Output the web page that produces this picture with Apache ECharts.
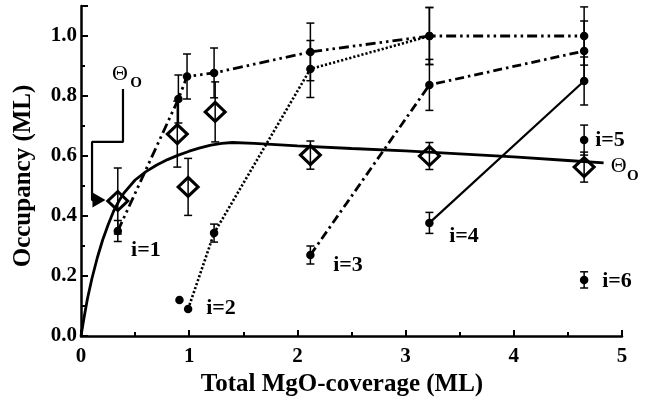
<!DOCTYPE html>
<html><head><meta charset="utf-8">
<script src="https://cdn.jsdelivr.net/npm/echarts@6/dist/echarts.min.js"></script>
<style>html,body{margin:0;padding:0;background:#fff}#c{width:652px;height:405px}</style>
</head><body><div id="c"></div>
<script>
// ---- data ----
const thetaCurve = [[0,0],[0.03,0.065],[0.06,0.125],[0.1,0.19],[0.15,0.26],[0.2,0.32],[0.25,0.37],[0.3,0.415],[0.35,0.45],[0.4,0.478],[0.5,0.52],[0.6,0.548],[0.7,0.57],[0.8,0.588],[0.9,0.603],[1.0,0.616],[1.1,0.627],[1.2,0.636],[1.3,0.642],[1.4,0.645],[1.6,0.642],[2.0,0.634],[2.5,0.625],[3.0,0.617],[3.5,0.607],[4.0,0.597],[4.5,0.585],[4.83,0.577]];
const thetaExp = [[0.34,0.45],[0.89,0.673],[0.99,0.497],[1.24,0.747],[2.12,0.603],[3.22,0.600],[4.65,0.563]];
const thetaExpErr = [0.11,0.11,0.095,0.10,0.047,0.045,0.05];
const i1 = [[0.34,0.35],[0.90,0.79],[0.98,0.865],[1.23,0.877],[2.12,0.947],[3.22,1.0],[4.65,1.0]];
const i1Err = [0.035,0.08,0.075,0.083,0.096,0.095,0.097];
const i2 = [[0.99,0.09],[1.23,0.343],[2.12,0.89],[3.22,1.0]];
const i2Err = [0,0.03,0.095,0.095];
const i2Extra = [[0.91,0.12]];
const i3 = [[2.12,0.27],[3.22,0.837],[4.65,0.95]];
const i3Err = [0.03,0.085,0.1];
const i4 = [[3.22,0.377],[4.65,0.85]];
const i4Err = [0.035,0.08];
const i5 = [[4.65,0.653]];
const i5Err = [0.05];
const i6 = [[4.65,0.187]];
const i6Err = [0.027];
const pointerPath = [[0.388,0.823],[0.388,0.647],[0.102,0.647],[0.102,0.453],[0.14,0.453]];
const pointerHead = [[0.166,0.453]];
const seriesLabels = [[0.60,0.287,'i=1'],[1.294,0.093,'i=2'],[2.468,0.237,'i=3'],[3.54,0.333,'i=4'],[4.889,0.653,'i=5'],[4.954,0.183,'i=6']];
const thetaLabels = [[0.36,0.873],[4.97,0.567]];
const thetaSubLabels = [[0.51,0.843],[5.10,0.533]];
const xTitle = 'Total MgO-coverage (ML)';
const yTitle = 'Occupancy (ML)';

// ---- build ----
const FONT = '"Liberation Serif","Times New Roman",serif';
function errData(pts, errs){ return pts.map((p,i)=>[p[0],p[1],errs[i]]).filter(d=>d[2]>0); }
const allErr = [].concat(errData(thetaExp,thetaExpErr), errData(i1,i1Err), errData(i2,i2Err),
  errData(i3,i3Err), errData(i4,i4Err), errData(i5,i5Err), errData(i6,i6Err));

function lineSeries(data, type, width){
  return {type:'line', data:data, symbol:'circle', symbolSize:8.5, showSymbol:true,
    itemStyle:{color:'#000', opacity:1}, lineStyle:{color:'#000', width:width, type:type, cap:'butt', opacity:1},
    emphasis:{disabled:true}, silent:true, z:3};
}
const hidden = {color:'rgba(0,0,0,0)', opacity:1};

const chart = echarts.init(document.getElementById('c'), null, {renderer:'canvas'});
chart.setOption({
  animation:false,
  backgroundColor:'#fff',
  grid:{left:81, top:6, width:541, height:330, containLabel:false},
  xAxis:{type:'value', min:0, max:5, interval:1,
    axisLine:{show:true, lineStyle:{color:'#000', width:2.5}},
    axisTick:{show:true, inside:true, length:6, lineStyle:{color:'#000', width:2}},
    minorTick:{show:true, splitNumber:2, length:4, lineStyle:{color:'#000', width:2}},
    splitLine:{show:false},
    axisLabel:{color:'#000', fontFamily:FONT, fontWeight:'bold', fontSize:21, margin:10,
      formatter:v=>String(Math.round(v))}},
  yAxis:{type:'value', min:0, max:1.1, interval:0.2,
    axisLine:{show:true, lineStyle:{color:'#000', width:2.5}},
    axisTick:{show:true, inside:true, length:7, lineStyle:{color:'#000', width:2}},
    minorTick:{show:true, splitNumber:2, length:4, lineStyle:{color:'#000', width:2}},
    splitLine:{show:false},
    axisLabel:{color:'#000', fontFamily:FONT, fontWeight:'bold', fontSize:21, margin:4, showMaxLabel:false,
      formatter:v=>(Math.abs(v*5-Math.round(v*5))<1e-6? v.toFixed(1):'')}},
  series:[
    {type:'line', data:thetaCurve, symbol:'none', smooth:false,
      lineStyle:{color:'#000', width:2.8}, silent:true, z:2},
    lineSeries(i1, [10,4,2.5,4,2.5,4], 2.8),
    lineSeries(i2, [2.2,2], 2.6),
    lineSeries(i3, [9,4,2.5,4], 2.8),
    lineSeries(i4, 'solid', 2.2),
    {type:'scatter', data:i2Extra.concat(i5, i6), symbol:'circle', symbolSize:8.5,
      itemStyle:{color:'#000', opacity:1}, silent:true, z:3},
    {type:'custom', data:allErr, encode:{x:0, y:1}, clip:false, silent:true, z:4,
      renderItem:function(params, api){
        const x=api.value(0), y=api.value(1), e=api.value(2);
        const t=api.coord([x,y+e]), b=api.coord([x,y-e]);
        const hw=4, st={stroke:'#000', lineWidth:1.5};
        return {type:'group', children:[
          {type:'line', shape:{x1:t[0],y1:t[1],x2:b[0],y2:b[1]}, style:st},
          {type:'line', shape:{x1:t[0]-hw,y1:t[1],x2:t[0]+hw,y2:t[1]}, style:st},
          {type:'line', shape:{x1:b[0]-hw,y1:b[1],x2:b[0]+hw,y2:b[1]}, style:st}]};
      }},
    {type:'scatter', data:thetaExp, symbol:'diamond', symbolSize:[20,19],
      itemStyle:{color:'rgba(0,0,0,0)', borderColor:'#000', borderWidth:3, opacity:1}, silent:true, z:5},
    {type:'line', data:pointerPath, symbol:'none', lineStyle:{color:'#000', width:2.2}, silent:true, z:5},
    {type:'scatter', data:pointerHead, symbol:'triangle', symbolSize:[15,13], symbolRotate:-90,
      itemStyle:{color:'#000', opacity:1}, silent:true, z:5},
    {type:'scatter', data:seriesLabels, symbolSize:1, itemStyle:hidden, clip:false, silent:true, z:6,
      label:{show:true, position:'inside', formatter:p=>p.data[2], color:'#000', fontFamily:FONT,
        fontWeight:'bold', fontSize:22, align:'center', verticalAlign:'middle'}},
    {type:'scatter', data:thetaLabels, symbolSize:1, itemStyle:hidden, clip:false, silent:true, z:6,
      label:{show:true, position:'inside', formatter:'Θ', color:'#000', fontFamily:FONT,
        fontSize:22, align:'center', verticalAlign:'middle'}},
    {type:'scatter', data:thetaSubLabels, symbolSize:1, itemStyle:hidden, clip:false, silent:true, z:6,
      label:{show:true, position:'inside', formatter:'O', color:'#000', fontFamily:FONT,
        fontWeight:'bold', fontSize:15, align:'center', verticalAlign:'middle'}}
  ],
  graphic:[
    {type:'text', x:342, y:385, style:{text:xTitle, fill:'#000', font:'bold 25px '+FONT,
      textAlign:'center', textVerticalAlign:'middle', verticalAlign:'middle'}},
    {type:'text', x:24, y:176, rotation:Math.PI/2, style:{text:yTitle, fill:'#000', font:'bold 25px '+FONT,
      textAlign:'center', textVerticalAlign:'middle', verticalAlign:'middle'}}
  ]
});
</script></body></html>
